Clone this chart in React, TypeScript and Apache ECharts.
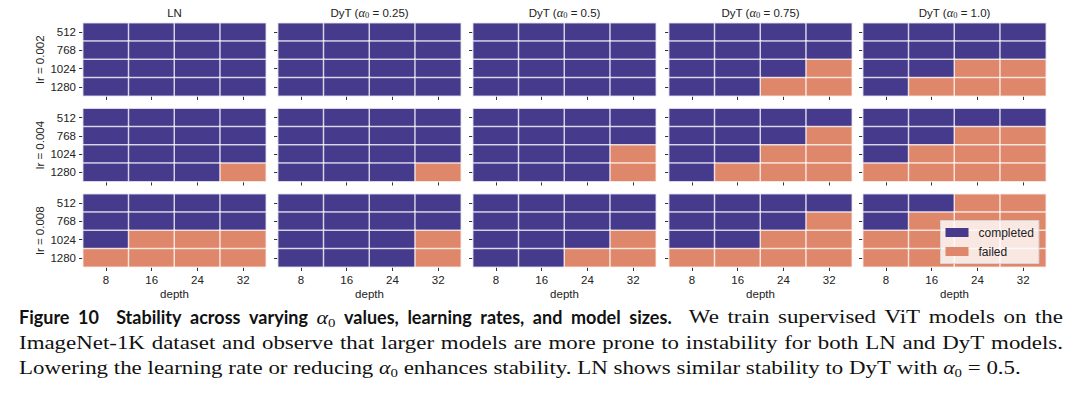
import React, { useEffect, useRef } from "react";
import * as echarts from "echarts";

// ---------- data ----------
const DEPTHS = ["8", "16", "24", "32"];
const WIDTHS = ["512", "768", "1024", "1280"];
const LRS = ["0.002", "0.004", "0.008"];
const METHODS = ["LN", "DyT", "DyT", "DyT", "DyT"];
const ALPHAS = ["", "0.25", "0.5", "0.75", "1.0"];
const STATUS_LABELS = ["completed", "failed"];

// 1 = failed, 0 = completed ; rows = width (512..1280), cols = depth (8..32)
const FAILED_LR_0002 = [
  [[0, 0, 0, 0], [0, 0, 0, 0], [0, 0, 0, 0], [0, 0, 0, 0]],
  [[0, 0, 0, 0], [0, 0, 0, 0], [0, 0, 0, 0], [0, 0, 0, 0]],
  [[0, 0, 0, 0], [0, 0, 0, 0], [0, 0, 0, 0], [0, 0, 0, 0]],
  [[0, 0, 0, 0], [0, 0, 0, 0], [0, 0, 0, 1], [0, 0, 1, 1]],
  [[0, 0, 0, 0], [0, 0, 0, 0], [0, 0, 1, 1], [0, 1, 1, 1]],
];
const FAILED_LR_0004 = [
  [[0, 0, 0, 0], [0, 0, 0, 0], [0, 0, 0, 0], [0, 0, 0, 1]],
  [[0, 0, 0, 0], [0, 0, 0, 0], [0, 0, 0, 0], [0, 0, 0, 1]],
  [[0, 0, 0, 0], [0, 0, 0, 0], [0, 0, 0, 1], [0, 0, 0, 1]],
  [[0, 0, 0, 0], [0, 0, 0, 1], [0, 0, 1, 1], [0, 1, 1, 1]],
  [[0, 0, 0, 0], [0, 0, 1, 1], [0, 1, 1, 1], [1, 1, 1, 1]],
];
const FAILED_LR_0008 = [
  [[0, 0, 0, 0], [0, 0, 0, 0], [0, 1, 1, 1], [1, 1, 1, 1]],
  [[0, 0, 0, 0], [0, 0, 0, 0], [0, 0, 0, 1], [0, 0, 0, 1]],
  [[0, 0, 0, 0], [0, 0, 0, 0], [0, 0, 0, 1], [0, 0, 1, 1]],
  [[0, 0, 0, 0], [0, 0, 0, 1], [0, 0, 1, 1], [1, 1, 1, 1]],
  [[0, 0, 1, 1], [0, 1, 1, 1], [1, 1, 1, 1], [1, 1, 1, 1]],
];
const FAILED_BY_LR = [FAILED_LR_0002, FAILED_LR_0004, FAILED_LR_0008];

const CAPTION_LINES: [string, string][][] = [
  [
    ["b", "Figure 10  Stability across varying "],
    ["a", "α"],
    ["s", "0"],
    ["b", " values, learning rates, and model sizes.  "],
    ["r", "We train supervised ViT models on the"],
  ],
  [["r", "ImageNet-1K dataset and observe that larger models are more prone to instability for both LN and DyT models."]],
  [
    ["r", "Lowering the learning rate or reducing "],
    ["a", "α"],
    ["s", "0"],
    ["r", " enhances stability. LN shows similar stability to DyT with "],
    ["a", "α"],
    ["s", "0"],
    ["r", " = 0.5."],
  ],
];

// ---------- layout / style ----------
const BLUE = "#463a8c";
const ORANGE = "#df876a";
const PANEL_LEFT = [83, 278, 473, 669, 863];
const PANEL_TOP = [23, 108.5, 194];
const PANEL_W = 183;
const PANEL_H = 73;
const SANS = "Liberation Sans";
const TXT = "#222";

const CAP_FONTS: Record<string, any> = {
  b: { family: "Lato", size: 18, weight: 700, italic: false, dy: 0, sx: 1 },
  r: { family: "Liberation Serif", size: 19.5, weight: 400, italic: false, dy: 0, sx: 1.175 },
  a: { family: "Liberation Serif", size: 19.5, weight: 400, italic: true, dy: 0, sx: 1.12 },
  s: { family: "Liberation Serif", size: 13.5, weight: 400, italic: false, dy: 5, sx: 1.1 },
};
const CAP_LEFT = 19;
const CAP_RIGHT = 1063;
const CAP_Y = [317, 342.5, 367.5];

function fontStr(f: any) {
  return `${f.italic ? "italic " : ""}${f.weight} ${f.size}px "${f.family}"`;
}

function buildCaption(): any[] {
  const canvas = document.createElement("canvas");
  const ctx = canvas.getContext("2d") as CanvasRenderingContext2D;
  const measure = (k: string, t: string) => {
    ctx.font = fontStr(CAP_FONTS[k]);
    return ctx.measureText(t).width * CAP_FONTS[k].sx;
  };
  const els: any[] = [];
  CAPTION_LINES.forEach((line, li) => {
    const words: { runs: { k: string; t: string }[]; gap: number }[] = [];
    let cur: any = null;
    let pending = 0;
    for (const [k, text] of line) {
      for (const ch of text) {
        if (ch === " ") {
          if (cur) {
            words.push(cur);
            cur = null;
          }
          pending++;
        } else {
          if (!cur) {
            cur = { runs: [], gap: pending };
            pending = 0;
          }
          const last = cur.runs[cur.runs.length - 1];
          if (last && last.k === k) last.t += ch;
          else cur.runs.push({ k, t: ch });
        }
      }
    }
    if (cur) words.push(cur);
    let sumW = 0;
    let units = 0;
    words.forEach((w, i) => {
      w.runs.forEach((r: any) => {
        r.w = measure(r.k, r.t);
        sumW += r.w;
      });
      if (i > 0) units += w.gap;
    });
    const justify = li < CAPTION_LINES.length - 1;
    const gap = justify ? (CAP_RIGHT - CAP_LEFT - sumW) / units : measure("r", " ");
    let x = CAP_LEFT;
    words.forEach((w, i) => {
      if (i > 0) x += gap * w.gap;
      w.runs.forEach((r: any) => {
        const f = CAP_FONTS[r.k];
        els.push({
          type: "text",
          x,
          y: CAP_Y[li] + f.dy,
          scaleX: f.sx,
          silent: true,
          style: {
            text: r.t,
            fill: "#111",
            fontFamily: f.family,
            fontSize: f.size,
            fontWeight: f.weight,
            fontStyle: f.italic ? "italic" : "normal",
            textAlign: "left",
            textVerticalAlign: "middle",
          },
        });
        x += r.w;
      });
    });
  });
  return els;
}

function buildOption() {
  const grid: any[] = [];
  const xAxis: any[] = [];
  const yAxis: any[] = [];
  const series: any[] = [];
  const graphic: any[] = [];
  LRS.forEach((lr, r) => {
    METHODS.forEach((m, c) => {
      const idx = r * METHODS.length + c;
      grid.push({ left: PANEL_LEFT[c], top: PANEL_TOP[r], width: PANEL_W, height: PANEL_H });
      xAxis.push({
        type: "category",
        gridIndex: idx,
        data: DEPTHS,
        position: "bottom",
        axisLine: { show: false },
        axisTick: { show: true, alignWithLabel: true, interval: 0, length: 4, lineStyle: { color: "#333", width: 1 } },
        axisLabel: { show: r === LRS.length - 1, interval: 0, fontSize: 11.5, color: TXT, fontFamily: SANS, margin: 7 },
        splitLine: { show: false },
        name: r === LRS.length - 1 ? "depth" : "",
        nameLocation: "middle",
        nameGap: 21,
        nameTextStyle: { fontSize: 11.5, color: TXT, fontFamily: SANS },
      });
      yAxis.push({
        type: "category",
        gridIndex: idx,
        data: WIDTHS,
        inverse: true,
        axisLine: { show: false },
        axisTick: { show: true, alignWithLabel: true, interval: 0, length: 4, lineStyle: { color: "#333", width: 1 } },
        axisLabel: { show: c === 0, interval: 0, fontSize: 11.5, color: TXT, fontFamily: SANS, margin: 7 },
        splitLine: { show: false },
        name: c === 0 ? `lr = ${lr}` : "",
        nameLocation: "middle",
        nameRotate: 90,
        nameGap: 37,
        nameTextStyle: { fontSize: 11.5, color: TXT, fontFamily: SANS },
      });
      const mat = FAILED_BY_LR[r][c];
      const data: number[][] = [];
      WIDTHS.forEach((_, yi) => DEPTHS.forEach((__, xi) => data.push([xi, yi, mat[yi][xi]])));
      series.push({
        type: "heatmap",
        xAxisIndex: idx,
        yAxisIndex: idx,
        data,
        itemStyle: { borderColor: "rgba(255,255,255,0.72)", borderWidth: 1.5 },
        emphasis: { disabled: true },
        silent: true,
      });
    });
  });
  METHODS.forEach((m, c) => {
    const text = ALPHAS[c] ? `${m} ({a|α}{s|0} = ${ALPHAS[c]})` : m;
    graphic.push({
      type: "text",
      x: PANEL_LEFT[c] + PANEL_W / 2,
      y: 13,
      silent: true,
      style: {
        text,
        fill: TXT,
        fontFamily: SANS,
        fontSize: 11.5,
        textAlign: "center",
        textVerticalAlign: "middle",
        rich: {
          a: { fontFamily: "Liberation Serif", fontStyle: "italic", fontSize: 12.5, fill: TXT, color: TXT },
          s: { fontFamily: "Liberation Serif", fontSize: 8.5, fill: TXT, color: TXT, verticalAlign: "bottom" },
        },
      },
    });
  });
  graphic.push(...buildCaption());
  return {
    animation: false,
    backgroundColor: "#ffffff",
    grid,
    xAxis,
    yAxis,
    series,
    graphic,
    visualMap: {
      type: "piecewise",
      dimension: 2,
      seriesIndex: series.map((_, i) => i),
      pieces: [
        { value: 0, label: STATUS_LABELS[0], color: BLUE },
        { value: 1, label: STATUS_LABELS[1], color: ORANGE },
      ],
      orient: "vertical",
      inverse: true,
      align: "left",
      left: 940,
      top: 220,
      itemWidth: 23,
      itemHeight: 9,
      itemGap: 7,
      textGap: 10,
      itemSymbol: "rect",
      padding: [6, 5, 6, 5],
      backgroundColor: "rgba(255,255,255,0.8)",
      borderColor: "#d6d6d6",
      borderWidth: 1,
      selectedMode: false,
      textStyle: { fontSize: 12, color: TXT, fontFamily: SANS },
    },
  };
}

export default function App() {
  const ref = useRef<HTMLDivElement>(null);
  useEffect(() => {
    if (!ref.current) return;
    const chart = echarts.init(ref.current, undefined, { renderer: "svg" });
    chart.setOption(buildOption() as any);
    return () => chart.dispose();
  }, []);
  return (
    <div
      ref={ref}
      style={{ position: "fixed", left: 0, top: 0, width: 1080, height: 394, background: "#fff" }}
    />
  );
}
